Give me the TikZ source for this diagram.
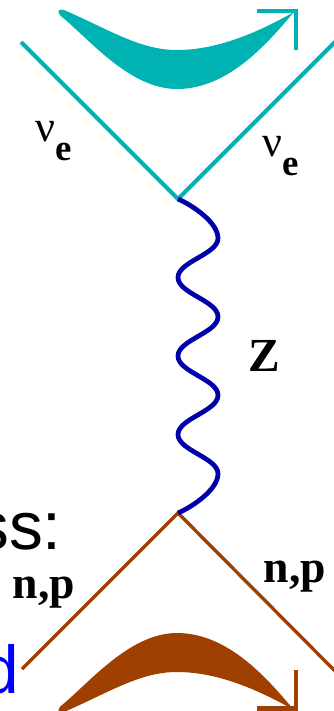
\documentclass[tikz,border=0pt]{standalone}
\usepackage{fontspec}
\setmainfont{Liberation Serif}
\newfontfamily\arialfont{Liberation Sans}
\definecolor{nuteal}{RGB}{0,178,178}
\definecolor{nucbrown}{RGB}{160,64,0}
\definecolor{zblue}{RGB}{0,0,170}
\newcommand{\nue}{{\fontsize{25}{25}\selectfont ν}\raisebox{-0.52em}{\bfseries e}}
\begin{document}
\begin{tikzpicture}[x=0.02cm,y=-0.02cm,
  nuline/.style={draw=nuteal,line width=2.3pt},
  npline/.style={draw=nucbrown,line width=1.9pt},
  zline/.style={draw=zblue,line width=2.7pt},
  tiphead/.style={line width=2.8pt,line join=miter},
  lbl/.style={inner sep=0pt}]
\useasboundingbox (0,0) rectangle (334,711);
\clip (0,0) rectangle (334,711);
% vertices and free ends
\coordinate (vtop) at (178,199);
\coordinate (vbot) at (178,513);
\coordinate (nuL) at (21,42);
\coordinate (nuR) at (336,41);
\coordinate (npL) at (22,669);
\coordinate (npR) at (336,672);
% neutrino lines
\draw[nuline] (nuL) -- (vtop) -- (nuR);
% nucleon lines
\draw[npline] (npL) -- (vbot) -- (npR);
% Z exchange
\draw[zline] (vtop) .. controls +(14,6) and +(0,-16) .. ++(40,39.25)
  foreach \s in {-1,1,-1,1,-1,1} { .. controls +(0,16) and +(0,-16) .. ++({40*\s},39.25) }
  .. controls +(0,16) and +(14,-6) .. (vbot);
% top swoosh
\fill[nuteal] (64,10) .. controls (110,30) and (140,50) .. (177,50)
  .. controls (220,50) and (262,30) .. (294,12)
  .. controls (270,40) and (230,89) .. (177,89)
  .. controls (130,89) and (90,40) .. (62,17)
  .. controls (56,12) and (58,8) .. (64,10) -- cycle;
\draw[nuteal,tiphead] (257,11) -- (296,11) -- (296,50);
% bottom swoosh
\fill[nucbrown] (64,712) .. controls (110,692) and (140,672) .. (177,672)
  .. controls (220,672) and (262,692) .. (294,710)
  .. controls (270,682) and (230,633) .. (177,633)
  .. controls (130,633) and (90,682) .. (62,705)
  .. controls (56,710) and (58,714) .. (64,712) -- cycle;
\draw[nucbrown,tiphead] (257,708.5) -- (296,708.5) -- (296,670);
% labels
\node[lbl,font=\fontsize{21}{21}\selectfont] (nulbl1) at (54,141) {\nue};
\node[lbl,font=\fontsize{21}{21}\selectfont] (nulbl2) at (281,156) {\nue};
\node[lbl,font=\fontsize{27}{27}\bfseries] (zlbl) at (264,356) {Z};
\node[lbl,font=\fontsize{26}{26}\bfseries] (nplbl1) at (44,593) {n,p};
\node[lbl,font=\fontsize{26}{26}\bfseries] (nplbl2) at (295,577) {n,p};
\node[lbl,font=\arialfont\fontsize{38.5}{38.5}\selectfont,anchor=base east] (sslbl) at (62,549) {ss:};
\node[lbl,font=\arialfont\fontsize{38.5}{38.5}\selectfont,anchor=base east,text=blue] (dlbl) at (19,693) {d};
\end{tikzpicture}
\end{document}
